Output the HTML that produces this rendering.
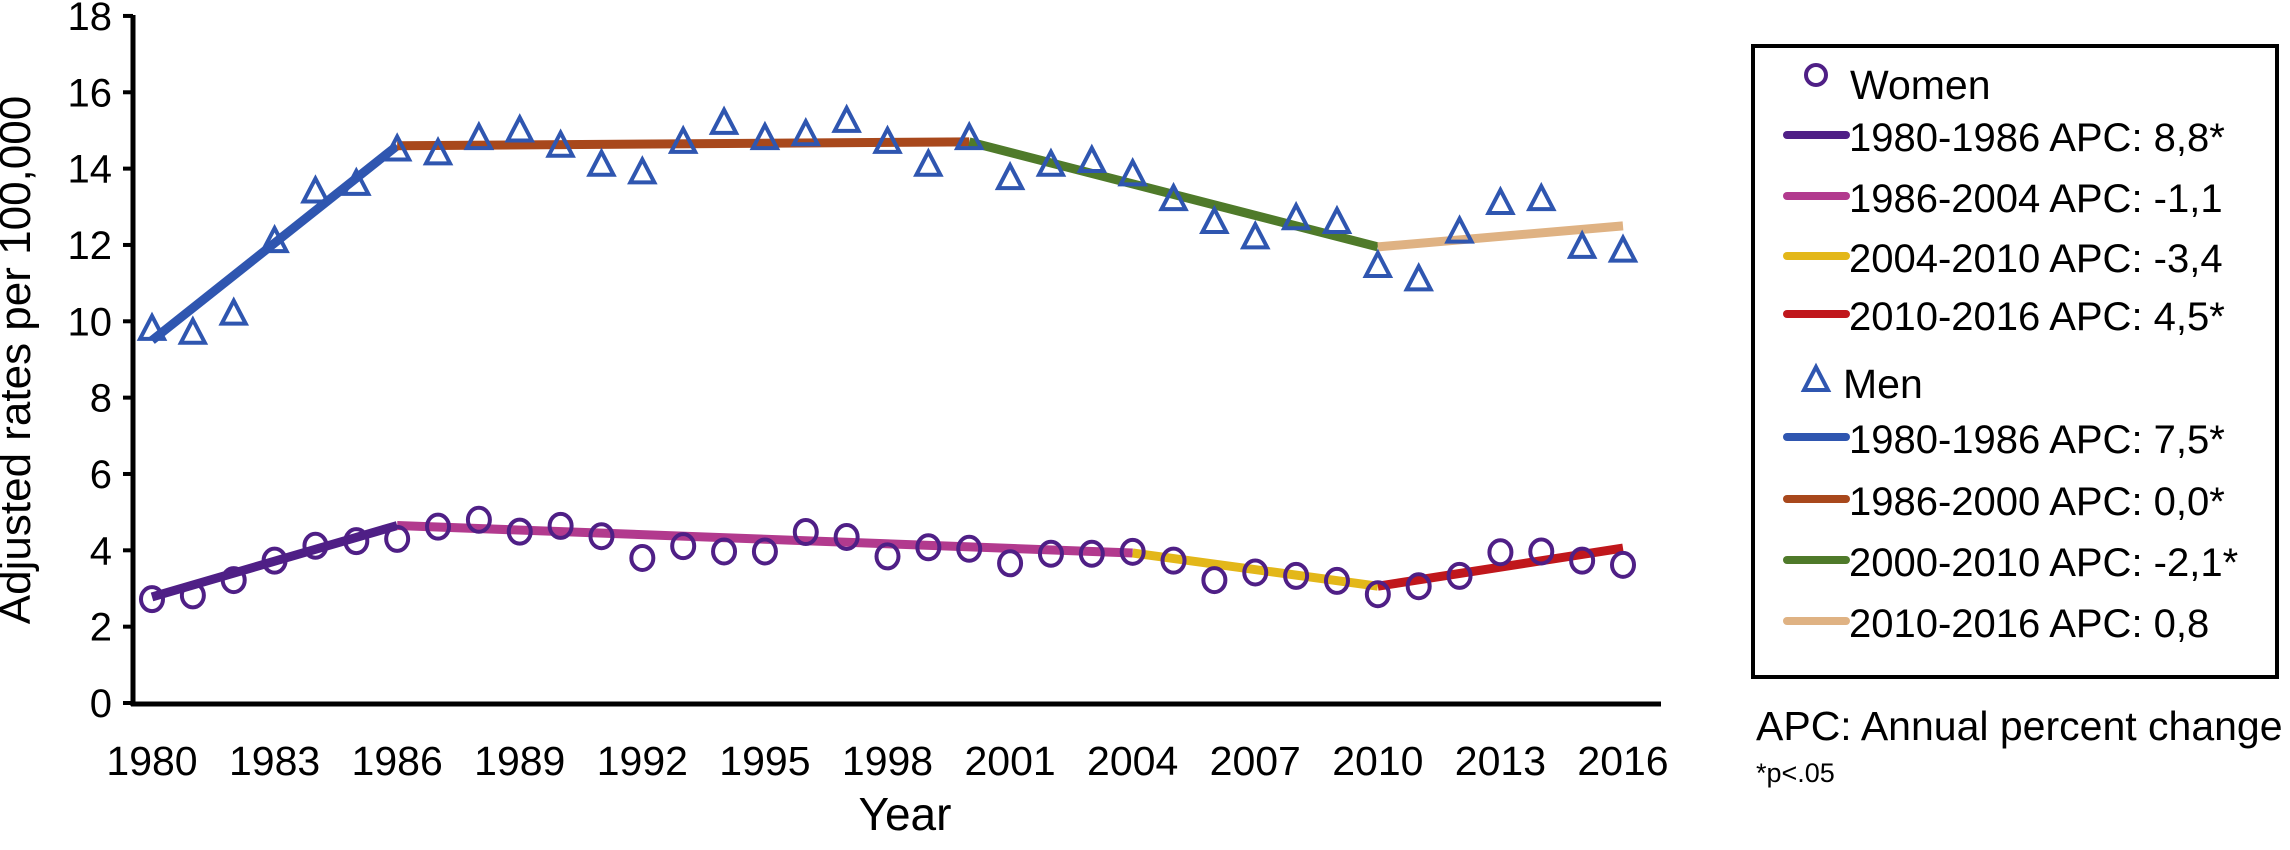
<!DOCTYPE html>
<html><head><meta charset="utf-8"><style>
html,body{margin:0;padding:0;background:#fff;}
svg{display:block;font-family:"Liberation Sans",sans-serif;}
</style></head><body>
<svg id="chart" width="2290" height="850" viewBox="0 0 2290 850" xmlns="http://www.w3.org/2000/svg">
<g id="axes"></g>
<g id="fits"></g>
<g id="marks"></g>
<text x="30" y="360" font-size="44" text-anchor="middle" transform="rotate(-90 30 360)">Adjusted rates per 100,000</text>
<text x="905" y="830" font-size="46" text-anchor="middle">Year</text>
<g id="legend">
<rect x="1753" y="46" width="524" height="631" fill="none" stroke="#000" stroke-width="4"/>
</g>
<text x="1756" y="740" font-size="41">APC: Annual percent change</text>
<text x="1756" y="782" font-size="27">*p&lt;.05</text>
</svg>
<script>
const years = [1980,1981,1982,1983,1984,1985,1986,1987,1988,1989,1990,1991,1992,1993,1994,1995,1996,1997,1998,1999,2000,2001,2002,2003,2004,2005,2006,2007,2008,2009,2010,2011,2012,2013,2014,2015,2016];
const menValues = [9.8,9.7,10.2,12.1,13.4,13.6,14.5,14.4,14.8,15.0,14.6,14.1,13.9,14.7,15.2,14.8,14.9,15.25,14.7,14.1,14.8,13.75,14.1,14.2,13.85,13.2,12.6,12.2,12.7,12.6,11.45,11.1,12.35,13.1,13.2,11.95,11.85];
const womenValues = [2.72,2.82,3.22,3.73,4.12,4.24,4.30,4.62,4.80,4.49,4.64,4.37,3.80,4.11,3.97,3.97,4.48,4.35,3.84,4.08,4.04,3.66,3.91,3.91,3.96,3.73,3.22,3.42,3.33,3.20,2.85,3.06,3.33,3.95,3.97,3.73,3.62];
const womenSegYears = [[1980,1986],[1986,2004],[2004,2010],[2010,2016]];
const womenSegValues = [[2.78,4.65],[4.65,3.93],[3.93,3.06],[3.06,4.06]];
const womenSegColors = ["#4f1f86","#b23a8e","#e3b719","#c0171c"];
const womenSegLabels = ["1980-1986 APC: 8,8*","1986-2004 APC: -1,1","2004-2010 APC: -3,4","2010-2016 APC: 4,5*"];
const menSegYears = [[1980,1986],[1986,2000],[2000,2010],[2010,2016]];
const menSegValues = [[9.5,14.6],[14.6,14.7],[14.7,11.95],[11.95,12.5]];
const menSegColors = ["#2f56b0","#a8481c","#4f7a2a","#dfb283"];
const menSegLabels = ["1980-1986 APC: 7,5*","1986-2000 APC: 0,0*","2000-2010 APC: -2,1*","2010-2016 APC: 0,8"];
const yTicks = [0,2,4,6,8,10,12,14,16,18];
const xTicks = [1980,1983,1986,1989,1992,1995,1998,2001,2004,2007,2010,2013,2016];

const NS="http://www.w3.org/2000/svg";
function X(yr){return 152+(1623-152)/36*(yr-1980);}
function Y(v){return 703-38.17*v;}
function mk(tag,attrs,parent){const e=document.createElementNS(NS,tag);for(const k in attrs)e.setAttribute(k,attrs[k]);parent.appendChild(e);return e;}

const axes=document.getElementById('axes');
let a=mk('line',{x1:133,y1:15,x2:133,y2:706,stroke:'#000','stroke-width':5},axes);


a=mk('line',{x1:131,y1:704,x2:1661,y2:704,stroke:'#000','stroke-width':5},axes);


yTicks.forEach(v=>{
  const t=mk('line',{x1:123,y1:Y(v),x2:133,y2:Y(v),stroke:'#000','stroke-width':4},axes);
  
  
  const l=mk('text',{x:112,y:Y(v)+14,'font-size':40,'text-anchor':'end'},axes);
  l.textContent=v;
  
  
});
xTicks.forEach(yr=>{
  const l=mk('text',{x:X(yr),y:775,'font-size':41,'text-anchor':'middle'},axes);
  l.textContent=yr;
  
  
});

const fits=document.getElementById('fits');
function drawSegs(segY,segV,cols,name){
  segY.forEach((s,i)=>{
    const l=mk('line',{x1:X(s[0]),y1:Y(segV[i][0]),x2:X(s[1]),y2:Y(segV[i][1]),stroke:cols[i],'stroke-width':9},fits);
    
    
  });
}
drawSegs(menSegYears,menSegValues,menSegColors,'men');
drawSegs(womenSegYears,womenSegValues,womenSegColors,'women');

const marks=document.getElementById('marks');
function tri(cx,cy,parent){
  return mk('path',{d:`M${cx},${cy-13} L${cx+12},${cy+10} L${cx-12},${cy+10} Z`,fill:'none',stroke:'#2f56b0','stroke-width':4,'stroke-linejoin':'miter'},parent);
}
years.forEach((yr,i)=>{
  const t=tri(X(yr),Y(menValues[i]),marks);
  
  
  const c=mk('ellipse',{cx:X(yr),cy:Y(womenValues[i]),rx:11,ry:12,fill:'none',stroke:'#4f1f86','stroke-width':4},marks);
  
  
});

const lg=document.getElementById('legend');
const rows=[85,147,208,268,326,384,449,511,572,633];
let e=mk('ellipse',{cx:1816,cy:rows[0]-10,rx:10,ry:10,fill:'none',stroke:'#4f1f86','stroke-width':4},lg);


e=mk('text',{x:1850,y:rows[0]+14,'font-size':41},lg);e.textContent='Women';


e=tri(1816,rows[5]-4,lg);


e=mk('text',{x:1843,y:rows[5]+14,'font-size':41},lg);e.textContent='Men';


function legendRows(labels,cols,start,name){
  labels.forEach((lab,i)=>{
    const y=rows[start+i];
    const l=mk('line',{x1:1787,y1:y-12,x2:1846,y2:y-12,stroke:cols[i],'stroke-width':8,'stroke-linecap':'round'},lg);
    
    
    const t=mk('text',{x:1849,y:y+4,'font-size':40},lg);
    t.textContent=lab;
    
    
  });
}
legendRows(womenSegLabels,womenSegColors,1,'women');
legendRows(menSegLabels,menSegColors,6,'men');
</script>
</body></html>
